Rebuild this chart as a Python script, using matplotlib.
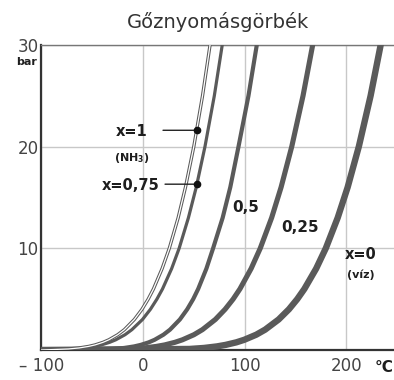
import matplotlib
matplotlib.use("Agg")
import matplotlib.pyplot as plt

plt.rcParams['font.family'] = ['DejaVu Sans']

pressure = [0, 0.1, 0.2, 0.35, 0.5, 0.75, 1, 1.5, 2, 3, 4, 5, 6, 8,
            10, 13, 16, 20, 25, 30, 34]

# temperature (°C) of each curve at those pressures, x = NH3 mass fraction
temp_x100 = [-100, -73.3, -62.8, -53.5, -47.1, -39.4, -33.6, -24.9, -18.3, -8.5, -1.0,
             5.1, 10.3, 18.8, 25.9, 34.6, 41.8, 50.0, 58.6, 66.0, 71.3]
temp_x075 = [-100, -68.2, -57.3, -47.6, -40.9, -32.9, -26.8, -17.7, -10.9, -0.5, 7.3,
             13.7, 19.2, 28.2, 35.6, 44.7, 52.4, 61.0, 70.2, 78.0, 83.6]
temp_x050 = [-100, -29.5, -18.5, -8.8, -2.3, 5.6, 11.4, 20.1, 26.6, 36.3, 43.5,
             49.4, 54.3, 62.4, 69.0, 78.4, 85.9, 94.0, 103.8, 112.0, 117.5]
temp_x025 = [-100, -12.5, 1.1, 13.1, 21.4, 31.3, 38.8, 50.1, 58.5, 71.2, 80.8,
             88.7, 95.4, 106.4, 115.4, 126.6, 135.9, 146.4, 157.5, 167.0, 173.7]
temp_x000 = [-100, 45.8, 60.1, 72.7, 81.3, 91.8, 99.6, 111.4, 120.2, 133.5, 143.6,
             151.8, 158.8, 170.4, 179.9, 191.6, 201.4, 212.4, 224.0, 233.9, 240.9]

# marked points on the x=1 and x=0,75 curves
mark_T = [52.7, 53.0]
mark_P = [21.6, 16.3]

x_ticks = [-100, 0, 100, 200]
x_tick_labels = ['\u2013 100', '0', '100', '200']
y_ticks = [10, 20, 30]

line_col = '#5a5a5a'
text_col = '#444444'
label_col = '#1e1e1e'

fig = plt.figure(figsize=(3.94, 3.80), dpi=100)
ax = fig.add_axes([0.105, 0.079, 0.895, 0.803])

ax.plot(temp_x000, pressure, color=line_col, lw=4.6, zorder=3)
ax.plot(temp_x025, pressure, color=line_col, lw=3.7, zorder=3)
ax.plot(temp_x050, pressure, color=line_col, lw=3.0, zorder=3)
ax.plot(temp_x075, pressure, color=line_col, lw=2.3, zorder=3)
# x=1 is drawn as a hollow double line
ax.plot(temp_x100, pressure, color=line_col, lw=2.4, zorder=3)
ax.plot(temp_x100, pressure, color='white', lw=0.9, zorder=3)

ax.plot(mark_T, mark_P, 'o', color='#111111', ms=4.5, zorder=5)
for t, p, dx in zip(mark_T, mark_P, [-33, -31.3]):
    ax.annotate('', xy=(t, p), xytext=(t + dx, p),
                arrowprops=dict(arrowstyle='-', color='#222222', lw=1.0,
                                shrinkA=0, shrinkB=0), zorder=4)

bold = dict(fontweight='bold', color=label_col, va='center')
ax.text(4.5, 21.5, 'x=1', ha='right', fontsize=10.5, **bold)
ax.text(-11, 18.9, '(NH$_\\mathbf{3}$)', ha='center', fontsize=8, **bold)
ax.text(16.5, 16.2, 'x=0,75', ha='right', fontsize=10.5, **bold)
ax.text(101.5, 14.0, '0,5', ha='center', fontsize=11, **bold)
ax.text(155, 12.0, '0,25', ha='center', fontsize=11, **bold)
ax.text(214, 9.4, 'x=0', ha='center', fontsize=10.5, **bold)
ax.text(214, 7.4, '(víz)', ha='center', fontsize=8, **bold)

ax.set_xlim(-100, 247)
ax.set_ylim(0, 30)
ax.set_xticks(x_ticks)
ax.set_xticklabels(x_tick_labels)
ax.set_yticks(y_ticks)
ax.tick_params(length=0, labelsize=12, colors=text_col)
ax.tick_params(axis='x', pad=5)
ax.tick_params(axis='y', pad=2)
ax.grid(True, color='#c8c8c8', lw=1.0, zorder=0)
ax.set_axisbelow(True)

ax.spines['right'].set_visible(False)
ax.spines['left'].set_color('#333333')
ax.spines['left'].set_linewidth(1.6)
ax.spines['bottom'].set_color('#333333')
ax.spines['bottom'].set_linewidth(1.6)
ax.spines['top'].set_color('#777777')
ax.spines['top'].set_linewidth(1.0)

fig.text(0.553, 0.942, 'Gőznyomásgörbék', ha='center', va='center',
         fontsize=14, color='#333333')
fig.text(0.068, 0.837, 'bar', ha='center', va='center', fontsize=8,
         fontweight='bold', color=label_col)
fig.text(0.975, 0.034, '°C', ha='center', va='center', fontsize=11,
         fontweight='bold', color=label_col)

fig.savefig('out.png', dpi=100)
